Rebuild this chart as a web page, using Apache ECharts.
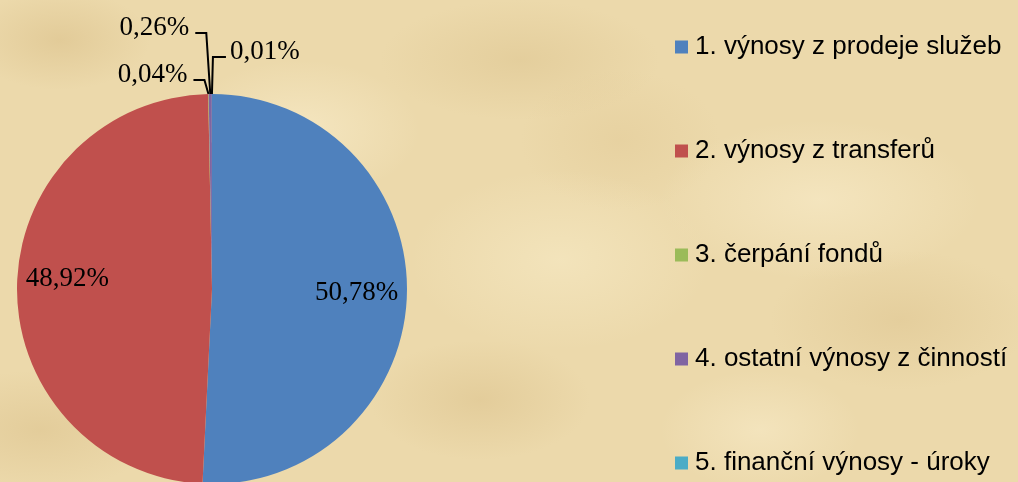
<!DOCTYPE html>
<html><head><meta charset="utf-8">
<script src="https://cdn.jsdelivr.net/npm/echarts@6/dist/echarts.min.js"></script>
<style>
html,body{margin:0;padding:0;width:1018px;height:482px;overflow:hidden;}
body{
 background-color:#ecd9ab;
 background-image:
  radial-gradient(ellipse 90px 50px at 60px 40px, rgba(214,186,130,0.45), transparent),
  radial-gradient(ellipse 120px 70px at 300px 130px, rgba(250,238,205,0.6), transparent),
  radial-gradient(ellipse 140px 60px at 520px 60px, rgba(216,190,135,0.4), transparent),
  radial-gradient(ellipse 150px 90px at 560px 260px, rgba(248,236,200,0.55), transparent),
  radial-gradient(ellipse 110px 60px at 480px 400px, rgba(214,186,130,0.4), transparent),
  radial-gradient(ellipse 160px 80px at 820px 200px, rgba(250,238,205,0.55), transparent),
  radial-gradient(ellipse 130px 70px at 900px 320px, rgba(214,186,130,0.35), transparent),
  radial-gradient(ellipse 100px 60px at 760px 430px, rgba(250,238,205,0.5), transparent),
  radial-gradient(ellipse 120px 60px at 40px 430px, rgba(214,186,130,0.4), transparent),
  radial-gradient(ellipse 100px 70px at 620px 140px, rgba(222,196,142,0.35), transparent);
}
#c{width:1018px;height:482px;}
</style></head>
<body><div id="c"></div>
<script>
const categories = ['1. výnosy z prodeje služeb','2. výnosy z transferů','3. čerpání fondů','4. ostatní výnosy z činností','5. finanční výnosy - úroky'];
const values = [50.78, 48.92, 0.04, 0.26, 0.01];
const colors = ['#4f81bd','#c0504d','#9bbb59','#8064a2','#4bacc6'];
// label placement for the tiny slices: [rise above slice, horizontal run]
const smallLabelGuides = {2:[14,-11], 3:[61,-11], 4:[37,13]};
// extra vertical nudge of the inside labels (perspective of the original)
const insideLabelNudge = {0:0, 1:-8};

const CX = 212, CY = 289, R = 195;
const fmt = v => v.toFixed(2).replace('.', ',') + '%';

const data = categories.map((name,i)=>{
  const small = smallLabelGuides[i] !== undefined;
  return {
    name, value: values[i],
    itemStyle:{color:colors[i]},
    label:{show:true, position: small ? 'outside' : 'inside'},
    labelLine:{show: small}
  };
});

const chart = echarts.init(document.getElementById('c'), null, {renderer:'canvas'});
chart.setOption({
  backgroundColor:'transparent',
  animation:false,
  legend:{
    orient:'vertical', left:675, top:34, padding:0,
    itemWidth:13, itemHeight:13, itemGap:78,
    icon:'rect',
    data:categories,
    textStyle:{fontFamily:'Liberation Sans, Arial', fontSize:26, color:'#000', lineHeight:26, padding:[0,0,0,2]}
  },
  series:[{
    type:'pie',
    center:[CX,CY], radius:R,
    startAngle:90, clockwise:true,
    avoidLabelOverlap:false,
    data,
    label:{
      formatter: p => fmt(p.value),
      fontFamily:'Liberation Serif, serif', fontSize:27, color:'#000'
    },
    labelLine:{lineStyle:{color:'#000', width:2}, length:10, length2:10, smooth:false},
    labelLayout: function(params){
      const i = params.dataIndex;
      const rect = params.labelRect;
      if (smallLabelGuides[i] === undefined) {
        const lx = rect.x + rect.width/2, ly = rect.y + rect.height/2;
        const k = 1.44;
        return {x: CX + (lx-CX)*k, y: CY + (ly-CY)*k + (insideLabelNudge[i]||0), align:'center', verticalAlign:'middle'};
      }
      const p0 = params.labelLinePoints ? params.labelLinePoints[0] : [CX, CY-R];
      const [rise, run] = smallLabelGuides[i];
      const p1 = [p0[0] + (run<0 ? -4 : 1), p0[1]-rise];
      const p2 = [p1[0] + run, p1[1]];
      return {
        x: p2[0] + (run<0 ? -6 : 4),
        y: p2[1] - 5,
        align: run<0 ? 'right' : 'left',
        verticalAlign:'middle',
        labelLinePoints:[p0,p1,p2]
      };
    }
  }]
});
</script>
</body></html>
